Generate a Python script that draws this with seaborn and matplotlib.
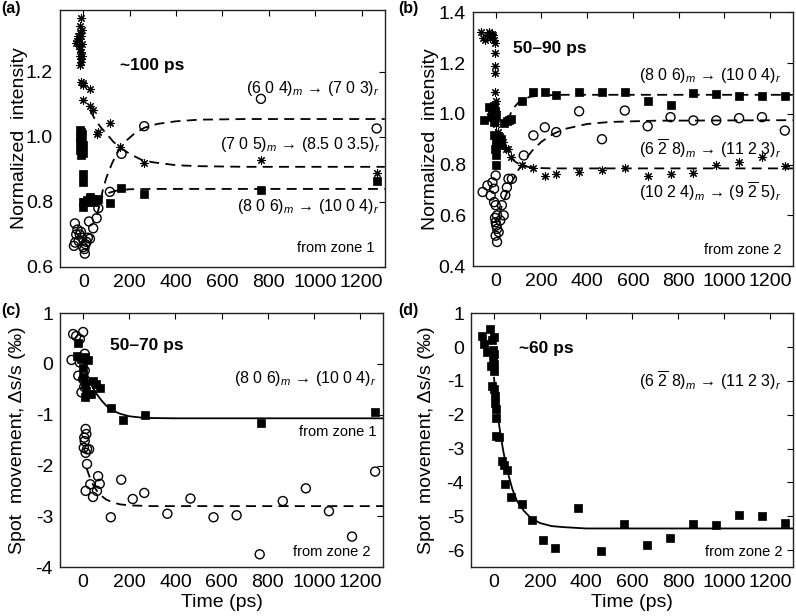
import matplotlib
matplotlib.use("Agg")
import matplotlib.pyplot as plt
import seaborn as sns

# ---------------- data ----------------
# (a) zone 1, normalized intensity
a_star_t = [-8, -12, -5, -15, -10, -30, -25, -20, -18, -12, -8, -15, -10, -8, -12, -5, -22, -6,
            -8, 0, -3, 29, 0, 29, 43, 58, 65, 115, 158, 262, 766, 1265]
a_star_v = [1.367, 1.34, 1.33, 1.32, 1.31, 1.29, 1.295, 1.30, 1.28, 1.27, 1.26, 1.25, 1.24, 1.23, 1.22, 1.25, 1.31, 1.285,
            1.17, 1.16, 1.165, 1.146, 1.115, 1.094, 1.083, 1.01, 1.016, 1.042, 0.969, 0.92, 0.93, 0.89]
a_sq_t = [-15, -10, -5, -12, -8, -15, -5, -10, -3, -12, -8, -2, 0, -2, 0, -3, 7, 15, 22, 30, 36, 45, 55, 65,
          115, 165, 263, 766, 1265]
a_sq_v = [1.02, 1.015, 1.01, 1.0, 0.99, 0.985, 0.98, 0.97, 0.975, 0.96, 0.945, 0.95, 0.886, 0.86, 0.80, 0.785,
          0.80, 0.805, 0.80, 0.815, 0.81, 0.80, 0.805, 0.81, 0.797, 0.844, 0.825, 0.836, 0.864]
a_circ_t = [-40, -36, -30, -25, -35, -20, -15, -10, -5, 0, 5, 7, 10, 14, 20, 29, 25, 43, 58, 65, 30,
            115, 165, 263, 766, 1265]
a_circ_v = [0.665, 0.734, 0.70, 0.715, 0.675, 0.68, 0.70, 0.708, 0.69, 0.661, 0.655, 0.641, 0.67, 0.677, 0.69,
            0.687, 0.74, 0.719, 0.75, 0.781, 0.81, 0.831, 0.948, 1.033, 1.117, 1.026]
a_fit_star_t = [29, 50, 75, 100, 130, 160, 200, 250, 300, 400, 500, 700, 1300]
a_fit_star_v = [1.083, 1.055, 1.03, 1.01, 0.985, 0.967, 0.948, 0.93, 0.922, 0.913, 0.91, 0.908, 0.908]
a_fit_circ_t = [60, 70, 85, 100, 125, 150, 180, 220, 263, 320, 400, 500, 700, 1300]
a_fit_circ_v = [0.76, 0.79, 0.838, 0.875, 0.92, 0.955, 0.985, 1.01, 1.028, 1.04, 1.048, 1.053, 1.055, 1.055]
a_fit_sq_t = [50, 80, 110, 150, 200, 300, 1300]
a_fit_sq_v = [0.80, 0.815, 0.828, 0.836, 0.839, 0.84, 0.84]

# (b) zone 2, normalized intensity
b_star_t = [-65, -55, -45, -40, -30, -25, -18, -12, -8, -4, -3, -3, -3, -2, 0, 2, 3, 8, 12, 20, 30, 45, 52, 66,
            115, 165, 215, 265, 365, 465, 565, 665, 765, 865, 965, 1065, 1165, 1265]
b_star_v = [1.322, 1.30, 1.29, 1.31, 1.322, 1.30, 1.316, 1.31, 1.29, 1.28, 1.24, 1.19, 1.16, 1.087, 1.05, 1.01,
            0.96, 0.93, 0.91, 0.90, 0.89, 0.86, 0.86, 0.83, 0.80, 0.786, 0.757, 0.764, 0.77, 0.78, 0.786, 0.757,
            0.762, 0.767, 0.80, 0.81, 0.828, 0.796]
b_sq_t = [-51, -29, -22, -15, -10, -7, -7, 0, -3, -7, 0, -5, 0, 3, 2, 14, 22, 25, 36, 50, 58, 66,
          115, 165, 215, 265, 365, 465, 565, 665, 765, 865, 965, 1065, 1165, 1265]
b_sq_v = [0.974, 1.026, 0.987, 1.013, 1.0, 1.03, 0.967, 0.99, 1.01, 0.915, 0.89, 0.86, 0.836, 0.80, 0.87, 0.91,
          0.876, 0.90, 0.965, 0.97, 0.975, 0.98, 1.049, 1.088, 1.085, 1.076, 1.088, 1.085, 1.085, 1.049, 1.033,
          1.083, 1.08, 1.072, 1.072, 1.07]
b_circ_t = [-57, -36, -22, -14, -7, 0, -7, 0, 6, 0, 6, 0, 6, 13, 3, -3, 20, 35, 27, 42, 49, 56, 71,
            123, 165, 215, 265, 365, 465, 565, 665, 765, 865, 965, 1065, 1165, 1265]
b_circ_v = [0.692, 0.718, 0.678, 0.73, 0.705, 0.757, 0.652, 0.64, 0.60, 0.573, 0.547, 0.52, 0.495, 0.534, 0.56,
            0.59, 0.58, 0.60, 0.64, 0.68, 0.71, 0.744, 0.744, 0.836, 0.915, 0.947, 0.928, 1.01, 0.90, 1.013, 0.951,
            0.987, 0.974, 0.974, 0.983, 0.987, 0.934]
b_fit_star_t = [0, 20, 40, 60, 80, 100, 130, 170, 250, 1300]
b_fit_star_v = [0.94, 0.895, 0.86, 0.835, 0.815, 0.803, 0.793, 0.787, 0.785, 0.785]
b_fit_sq_t = [50, 65, 80, 100, 120, 150, 200, 300, 1300]
b_fit_sq_v = [0.97, 1.0, 1.025, 1.045, 1.057, 1.067, 1.073, 1.075, 1.075]
b_fit_circ_t = [13, 30, 50, 70, 100, 130, 160, 200, 250, 300, 400, 500, 700, 1300]
b_fit_circ_v = [0.60, 0.645, 0.69, 0.73, 0.78, 0.82, 0.855, 0.89, 0.92, 0.94, 0.96, 0.968, 0.973, 0.975]

# (c) spot movement, zone 1 (squares) and zone 2 (circles)
c_sq_t = [-21, -28, -7, 7, 22, 0, 0, 7, 14, 7, 22, 36, 43, 58, 72, 122, 172, 269, 769, 1265]
c_sq_v = [0.41, 0.16, 0.10, 0.13, 0.07, -0.07, -0.26, -0.40, -0.53, -0.66, -0.59, -0.59, -0.33, -0.40, -0.47,
          -0.86, -1.10, -1.0, -1.17, -0.94]
c_circ_t = [-43, -14, 0, -50, -30, -21, -7, 7, 7, -14, 0, 5,
            11, 14, 7, 3, 11, 17, 26, 5, 17, 11, 31, 43, 60, 65, 72,
            120, 165, 215, 265, 365, 465, 565, 665, 765, 865, 965, 1065, 1165, 1265]
c_circ_v = [0.59, 0.49, 0.63, 0.08, 0.55, -0.23, -0.56, 0.2, -0.13, 0.03, -0.3, -0.45,
            -1.28, -1.38, -1.52, -1.65, -1.75, -1.68, -1.68, -1.45, -1.97, -2.50, -2.37, -2.62, -2.50, -2.21, -2.36,
            -3.02, -2.28, -2.66, -2.54, -2.95, -2.65, -3.02, -2.98, -3.75, -2.70, -2.45, -2.90, -3.40, -2.12]
c_fit_sq_t = [5, 20, 40, 60, 80, 100, 130, 160, 200, 250, 300, 400, 1300]
c_fit_sq_v = [-0.03, -0.23, -0.45, -0.60, -0.72, -0.82, -0.92, -0.98, -1.03, -1.055, -1.065, -1.07, -1.07]
c_fit_circ_t = [15, 30, 45, 60, 80, 100, 130, 160, 200, 300, 1300]
c_fit_circ_v = [-2.05, -2.25, -2.4, -2.5, -2.6, -2.67, -2.73, -2.765, -2.785, -2.8, -2.8]

# (d) spot movement, zone 2
d_sq_t = [-53, -43, -29, -19, -7, -14, 0, -4, -4, 0, -2, 2, -7, 0, 4, 4, 7, 7, 10, 21, 33, 43, 47, 58, 72,
          120, 165, 215, 265, 365, 465, 565, 665, 765, 865, 965, 1065, 1165, 1265]
d_sq_v = [0.32, 0.10, -0.15, 0.52, 0.22, -0.55, 0.30, -0.10, -0.35, -0.70, -0.2, -0.5, -1.14, -1.24, -1.44,
          -1.64, -1.84, -2.09, -2.64, -2.67, -3.36, -3.48, -4.06, -3.63, -4.43, -4.65, -5.10, -5.69, -5.95, -4.75,
          -6.02, -5.22, -5.84, -5.64, -5.24, -5.27, -4.95, -5.0, -5.20]
d_fit_t = [0, 10, 20, 30, 40, 50, 60, 80, 100, 130, 160, 200, 250, 300, 400, 1300]
d_fit_v = [-0.9, -1.6, -2.2, -2.65, -3.06, -3.4, -3.71, -4.2, -4.55, -4.84, -5.05, -5.2, -5.29, -5.32, -5.36, -5.36]

X_TICKS = [0, 200, 400, 600, 800, 1000, 1200]

# ---------------- style ----------------
sns.set_theme(style="white", rc={"axes.edgecolor": "black", "text.color": "black",
                                 "axes.labelcolor": "black", "xtick.color": "black",
                                 "ytick.color": "black"})
plt.rcParams['font.family'] = ['Liberation Sans', 'DejaVu Sans']
plt.rcParams['mathtext.fontset'] = 'custom'
plt.rcParams['mathtext.rm'] = 'Liberation Sans'
plt.rcParams['mathtext.it'] = 'Liberation Sans:italic'
plt.rcParams['mathtext.bf'] = 'Liberation Sans:bold'

TICK_FS = 14
LABEL_FS = 14
ANNOT_FS = 11.5
ZONE_FS = 10.5
TAU_FS = 12.5
DASH = (0, (5.5, 3.5))
STAR = (8, 2, 0)


def squares(ax, t, v):
    sns.scatterplot(x=t, y=v, ax=ax, marker='s', s=30, color='black', edgecolor='black',
                    linewidth=0.5, legend=False, zorder=3)


def circles(ax, t, v):
    sns.scatterplot(x=t, y=v, ax=ax, marker='o', s=42, facecolor='none', edgecolor='black',
                    linewidth=1.0, legend=False, zorder=3)


def stars(ax, t, v):
    sns.scatterplot(x=t, y=v, ax=ax, marker=STAR, s=30, color='black', linewidth=0.8,
                    legend=False, zorder=3)


def fit(ax, t, v, ls=DASH):
    sns.lineplot(x=t, y=v, ax=ax, color='black', linewidth=1.3, linestyle=ls, legend=False, zorder=2)


def style_axes(ax, ylim, yticks, yfmt, xlabel=False):
    ax.set_xlim(-100, 1300)
    ax.set_ylim(*ylim)
    ax.set_xticks(X_TICKS)
    ax.set_yticks(yticks)
    ax.set_yticklabels([yfmt.format(y) for y in yticks])
    ax.tick_params(direction='in', top=True, right=True, length=4, width=0.8,
                   labelsize=TICK_FS, pad=5)
    for s in ax.spines.values():
        s.set_linewidth(1.0)
        s.set_color('#222222')
    ax.set_xlabel("Time (ps)" if xlabel else "", fontsize=LABEL_FS, labelpad=2)


fig = plt.figure(figsize=(7.96, 6.16), dpi=100)
ax_a = fig.add_axes([0.0754, 0.5666, 0.408, 0.417])
ax_b = fig.add_axes([0.594, 0.568, 0.402, 0.412])
ax_c = fig.add_axes([0.0754, 0.0795, 0.406, 0.412])
ax_d = fig.add_axes([0.5917, 0.0795, 0.4045, 0.412])

# (a)
fit(ax_a, a_fit_star_t, a_fit_star_v)
fit(ax_a, a_fit_circ_t, a_fit_circ_v)
fit(ax_a, a_fit_sq_t, a_fit_sq_v)
stars(ax_a, a_star_t, a_star_v)
squares(ax_a, a_sq_t, a_sq_v)
circles(ax_a, a_circ_t, a_circ_v)
style_axes(ax_a, (0.6, 1.39), [0.6, 0.8, 1.0, 1.2], "{:.1f}")
ax_a.set_ylabel("Normalized  intensity", fontsize=LABEL_FS)
ax_a.yaxis.set_label_coords(-0.098, 0.5)
ax_a.text(0.185, 0.786, "~100 ps", transform=ax_a.transAxes, fontsize=TAU_FS, fontweight='bold', va='center')
ax_a.text(0.985, 0.696, r"(6 0 4)$_m$ → (7 0 3)$_r$", transform=ax_a.transAxes, fontsize=ANNOT_FS, ha='right', va='center')
ax_a.text(0.985, 0.475, r"(7 0 5)$_m$ → (8.5 0 3.5)$_r$", transform=ax_a.transAxes, fontsize=ANNOT_FS, ha='right', va='center')
ax_a.text(0.985, 0.235, r"(8 0 6)$_m$ → (10 0 4)$_r$", transform=ax_a.transAxes, fontsize=ANNOT_FS, ha='right', va='center')
ax_a.text(0.969, 0.073, "from zone 1", transform=ax_a.transAxes, fontsize=ZONE_FS, ha='right', va='center')

# (b)
fit(ax_b, b_fit_star_t, b_fit_star_v)
fit(ax_b, b_fit_sq_t, b_fit_sq_v)
fit(ax_b, b_fit_circ_t, b_fit_circ_v)
stars(ax_b, b_star_t, b_star_v)
squares(ax_b, b_sq_t, b_sq_v)
circles(ax_b, b_circ_t, b_circ_v)
style_axes(ax_b, (0.4, 1.4), [0.4, 0.6, 0.8, 1.0, 1.2, 1.4], "{:.1f}")
ax_b.set_ylabel("Normalized  intensity", fontsize=LABEL_FS)
ax_b.yaxis.set_label_coords(-0.107, 0.5)
ax_b.text(0.124, 0.857, "50–90 ps", transform=ax_b.transAxes, fontsize=TAU_FS, fontweight='bold', va='center')
ax_b.text(0.965, 0.752, r"(8 0 6)$_m$ → (10 0 4)$_r$", transform=ax_b.transAxes, fontsize=ANNOT_FS, ha='right', va='center')
ax_b.text(0.965, 0.463, r"(6 $\overline{2}$ 8)$_m$ → (11 2 3)$_r$", transform=ax_b.transAxes, fontsize=ANNOT_FS, ha='right', va='center')
ax_b.text(0.965, 0.293, r"(10 2 4)$_m$ → (9 $\overline{2}$ 5)$_r$", transform=ax_b.transAxes, fontsize=ANNOT_FS, ha='right', va='center')
ax_b.text(0.965, 0.063, "from zone 2", transform=ax_b.transAxes, fontsize=ZONE_FS, ha='right', va='center')

# (c)
fit(ax_c, c_fit_sq_t, c_fit_sq_v, ls='-')
fit(ax_c, c_fit_circ_t, c_fit_circ_v)
circles(ax_c, c_circ_t, c_circ_v)
squares(ax_c, c_sq_t, c_sq_v)
style_axes(ax_c, (-4, 1), [-4, -3, -2, -1, 0, 1], "{:d}", xlabel=True)
ax_c.set_ylabel("Spot  movement, Δs/s (‰)", fontsize=LABEL_FS)
ax_c.yaxis.set_label_coords(-0.105, 0.5)
ax_c.text(0.155, 0.874, "50–70 ps", transform=ax_c.transAxes, fontsize=TAU_FS, fontweight='bold', va='center')
ax_c.text(0.98, 0.743, r"(8 0 6)$_m$ → (10 0 4)$_r$", transform=ax_c.transAxes, fontsize=ANNOT_FS, ha='right', va='center')
ax_c.text(0.98, 0.533, "from zone 1", transform=ax_c.transAxes, fontsize=ZONE_FS, ha='right', va='center')
ax_c.text(0.96, 0.06, "from zone 2", transform=ax_c.transAxes, fontsize=ZONE_FS, ha='right', va='center')

# (d)
fit(ax_d, d_fit_t, d_fit_v, ls='-')
squares(ax_d, d_sq_t, d_sq_v)
style_axes(ax_d, (-6.5, 1), [-6, -5, -4, -3, -2, -1, 0, 1], "{:d}", xlabel=True)
ax_d.set_ylabel("Spot  movement, Δs/s (‰)", fontsize=LABEL_FS)
ax_d.yaxis.set_label_coords(-0.112, 0.5)
ax_d.text(0.15, 0.861, "~60 ps", transform=ax_d.transAxes, fontsize=TAU_FS, fontweight='bold', va='center')
ax_d.text(0.963, 0.736, r"(6 $\overline{2}$ 8)$_m$ → (11 2 3)$_r$", transform=ax_d.transAxes, fontsize=ANNOT_FS, ha='right', va='center')
ax_d.text(0.968, 0.06, "from zone 2", transform=ax_d.transAxes, fontsize=ZONE_FS, ha='right', va='center')

# panel letters
for lbl, x, y in [("(a)", 0.002, 0.998), ("(b)", 0.5, 0.998), ("(c)", 0.002, 0.508), ("(d)", 0.5, 0.508)]:
    fig.text(x, y, lbl, fontsize=11.5, fontweight='bold', ha='left', va='top')

fig.savefig("out.png", dpi=100)
